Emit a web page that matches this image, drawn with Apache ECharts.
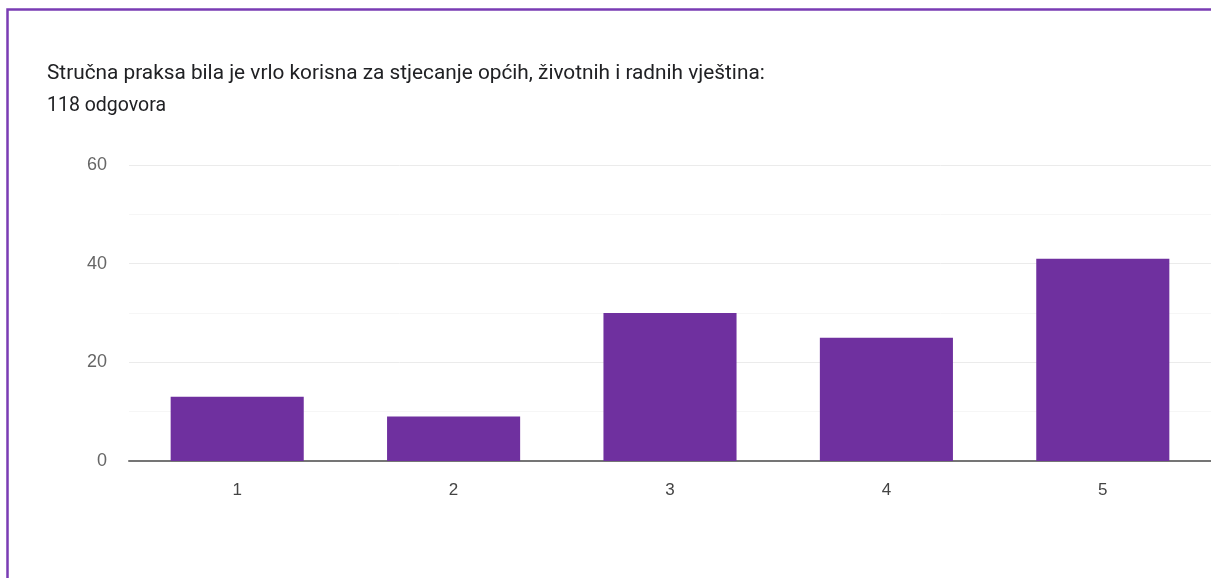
<!DOCTYPE html>
<html>
<head>
<meta charset="utf-8">
<script src="https://cdn.jsdelivr.net/npm/echarts@6/dist/echarts.min.js"></script>
<style>
html,body{margin:0;padding:0;background:#fff;}
#c{width:1211px;height:578px;}
</style>
</head>
<body>
<div id="c"></div>
<script>
const categories = ['1', '2', '3', '4', '5'];
const counts = [13, 9, 30, 25, 41];
const titleText = 'Stručna praksa bila je vrlo korisna za stjecanje općih, životnih i radnih vještina:';
const subtitleText = '118 odgovora';

const chart = echarts.init(document.getElementById('c'), null, {renderer: 'canvas'});
chart.setOption({
  backgroundColor: '#ffffff',
  animation: false,
  title: {
    text: titleText,
    subtext: subtitleText,
    left: 42,
    top: 58,
    itemGap: 12,
    textStyle: {fontFamily: 'Roboto', fontSize: 20.8, fontWeight: 'normal', color: '#202124'},
    subtextStyle: {fontFamily: 'Roboto', fontSize: 19.5, color: '#202124'}
  },
  graphic: [{
    type: 'rect',
    shape: {x: 7.5, y: 9.5, width: 1240, height: 600},
    style: {fill: 'none', stroke: '#7a3cb4', lineWidth: 2.5},
    silent: true
  }],
  grid: {left: 129, right: 0, top: 165, bottom: 117},
  xAxis: {
    type: 'category',
    data: categories,
    axisLine: {show: true, lineStyle: {color: '#757575', width: 2}},
    axisTick: {show: false},
    axisLabel: {fontFamily: 'Liberation Sans', fontSize: 17, color: '#444', margin: 21},
    splitLine: {show: false}
  },
  yAxis: {
    type: 'value',
    min: 0,
    max: 60,
    interval: 20,
    axisLine: {show: false},
    axisTick: {show: false},
    axisLabel: {fontFamily: 'Liberation Sans', fontSize: 18, color: '#666', margin: 22},
    splitLine: {show: true, lineStyle: {color: '#ebebeb', width: 1}},
    minorTick: {show: false, splitNumber: 2},
    minorSplitLine: {show: true, lineStyle: {color: '#f6f6f6', width: 1}}
  },
  series: [{
    type: 'bar',
    data: counts,
    barWidth: '61.5%',
    itemStyle: {color: '#6f309f'}
  }]
});
</script>
</body>
</html>
